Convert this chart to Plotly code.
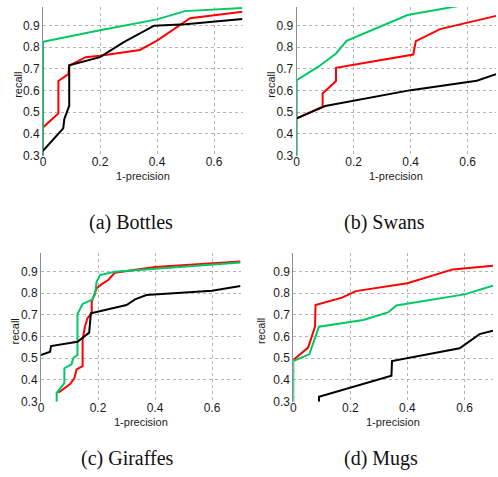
import plotly.graph_objects as go

# ---------------- data (1-precision, recall) ----------------
# (a) Bottles
a_red_x = [0.0, 0.054, 0.054, 0.089, 0.092, 0.15, 0.2, 0.34, 0.4, 0.516, 0.7]
a_red_y = [0.43, 0.495, 0.644, 0.676, 0.715, 0.754, 0.76, 0.787, 0.83, 0.933, 0.963]
a_green_x = [0.0, 0.0, 0.2, 0.4, 0.498, 0.7]
a_green_y = [0.3, 0.825, 0.878, 0.928, 0.966, 0.98]
a_black_x = [0.0, 0.071, 0.075, 0.092, 0.092, 0.2, 0.282, 0.39, 0.5, 0.7]
a_black_y = [0.323, 0.426, 0.47, 0.53, 0.716, 0.754, 0.822, 0.899, 0.905, 0.93]

# (b) Swans
b_red_x = [0.0, 0.091, 0.091, 0.138, 0.138, 0.409, 0.418, 0.503, 0.7]
b_red_y = [0.472, 0.526, 0.587, 0.644, 0.705, 0.766, 0.828, 0.883, 0.944]
b_green_x = [0.0, 0.0, 0.076, 0.138, 0.175, 0.389, 0.552, 0.7]
b_green_y = [0.3, 0.648, 0.71, 0.771, 0.829, 0.948, 0.986, 1.02]
b_black_x = [0.0, 0.1, 0.4, 0.632, 0.7]
b_black_y = [0.472, 0.529, 0.602, 0.645, 0.676]

# (c) Giraffes
c_red_x = [0.061, 0.102, 0.117, 0.125, 0.146, 0.146, 0.154, 0.163, 0.178, 0.178,
           0.195, 0.212, 0.236, 0.259, 0.4, 0.7]
c_red_y = [0.341, 0.381, 0.408, 0.449, 0.464, 0.584, 0.645, 0.684, 0.707, 0.76,
           0.822, 0.84, 0.86, 0.894, 0.92, 0.945]
c_green_x = [0.055, 0.055, 0.082, 0.082, 0.107, 0.113, 0.128, 0.128, 0.146, 0.178,
             0.189, 0.195, 0.207, 0.259, 0.7]
c_green_y = [0.3, 0.341, 0.385, 0.454, 0.472, 0.5, 0.515, 0.704, 0.75, 0.768,
             0.791, 0.852, 0.883, 0.898, 0.941]
c_black_x = [0.0, 0.032, 0.035, 0.128, 0.169, 0.175, 0.3, 0.33, 0.37, 0.6, 0.7]
c_black_y = [0.515, 0.53, 0.556, 0.576, 0.618, 0.707, 0.745, 0.771, 0.791, 0.811, 0.832]

# (d) Mugs
d_red_x = [0.0, 0.052, 0.076, 0.078, 0.171, 0.219, 0.4, 0.559, 0.7]
d_red_y = [0.492, 0.549, 0.645, 0.745, 0.779, 0.809, 0.845, 0.909, 0.926]
d_green_x = [0.0, 0.0, 0.056, 0.09, 0.245, 0.332, 0.361, 0.6, 0.7]
d_green_y = [0.3, 0.487, 0.518, 0.645, 0.676, 0.711, 0.743, 0.794, 0.834]
d_black_x = [0.09, 0.09, 0.344, 0.346, 0.583, 0.653, 0.7]
d_black_y = [0.3, 0.323, 0.42, 0.487, 0.546, 0.611, 0.627]

captions = ["(a) Bottles", "(b) Swans", "(c) Giraffes", "(d) Mugs"]
x_ticks = [0, 0.2, 0.4, 0.6]
x_tick_text = ["0", "0.2", "0.4", "0.6"]
y_ticks = [0.3, 0.4, 0.5, 0.6, 0.7, 0.8, 0.9]
y_tick_text = ["0.3", "0.4", "0.5", "0.6", "0.7", "0.8", "0.9"]

panels = [
    (a_red_x, a_red_y, a_green_x, a_green_y, a_black_x, a_black_y),
    (b_red_x, b_red_y, b_green_x, b_green_y, b_black_x, b_black_y),
    (c_red_x, c_red_y, c_green_x, c_green_y, c_black_x, c_black_y),
    (d_red_x, d_red_y, d_green_x, d_green_y, d_black_x, d_black_y),
]

RED = "#ff0000"
GREEN = "#00c864"
BLACK = "#000000"

W, H = 498, 477
# pixel geometry of each panel: (left, right, top, bottom, ytop_value)
geom = [
    (43.0, 242.5, 7.0, 155.7, 0.985),
    (296.7, 496.2, 7.0, 155.7, 0.985),
    (41.0, 240.5, 253.3, 401.7, 0.983),
    (293.3, 493.0, 253.3, 401.7, 0.983),
]
caption_pos = [(131, 222), (384, 222), (128, 458), (381, 458)]
recall_x = [18.5, 271.5, 14.0, 260.5]

fig = go.Figure()
tick_font = dict(family="Liberation Sans, Arial, sans-serif", size=12, color="#1a1a1a")
title_font = dict(family="Liberation Sans, Arial, sans-serif", size=11, color="#1a1a1a")

for i, (rx, ry, gx, gy, kx, ky) in enumerate(panels):
    n = "" if i == 0 else str(i + 1)
    xa, ya = "x" + n, "y" + n
    for xs, ys, col in ((rx, ry, RED), (gx, gy, GREEN), (kx, ky, BLACK)):
        fig.add_trace(go.Scatter(x=xs, y=ys, mode="lines", xaxis=xa, yaxis=ya,
                                 line=dict(color=col, width=2), showlegend=False,
                                 hoverinfo="skip"))
    l, r, t, b, ytop = geom[i]
    fig.layout["xaxis" + n] = dict(
        domain=[l / W, r / W], range=[0, 0.7], anchor=ya, automargin=False,
        tickvals=x_ticks, ticktext=x_tick_text, tickfont=tick_font,
        showgrid=True, gridcolor="#b4b4b4", griddash="dot", gridwidth=1,
        zeroline=False, showline=False, ticks="", fixedrange=True,
        ticklabelstandoff=-3)
    fig.layout["yaxis" + n] = dict(
        domain=[1 - b / H, 1 - t / H], range=[0.3, ytop], anchor=xa, automargin=False,
        tickvals=y_ticks, ticktext=y_tick_text, tickfont=tick_font,
        showgrid=True, gridcolor="#b4b4b4", griddash="dot", gridwidth=1,
        zeroline=False, showline=True, linecolor="#8c8c8c", linewidth=1,
        ticks="", fixedrange=True)
    cx = (l + r) / 2
    fig.add_annotation(x=cx / W, y=1 - (b + 20) / H, xref="paper", yref="paper",
                       text="1-precision", showarrow=False, font=title_font,
                       xanchor="center", yanchor="middle")
    fig.add_annotation(x=recall_x[i] / W, y=1 - ((t + b) / 2 + 4) / H, xref="paper",
                       yref="paper", text="recall", showarrow=False, textangle=-90,
                       font=title_font, xanchor="center", yanchor="middle")
    px, py = caption_pos[i]
    fig.add_annotation(x=px / W, y=1 - py / H, xref="paper", yref="paper",
                       text=captions[i], showarrow=False,
                       font=dict(family="Liberation Serif, Times New Roman, serif",
                                 size=20, color="#111111"),
                       xanchor="center", yanchor="middle")

fig.update_layout(width=W, height=H, margin=dict(l=0, r=0, t=0, b=0),
                  paper_bgcolor="white", plot_bgcolor="white")
fig.write_html("out.html", config={"displayModeBar": False},
               post_script="document.body.style.margin='0';document.body.style.overflow='hidden';")
